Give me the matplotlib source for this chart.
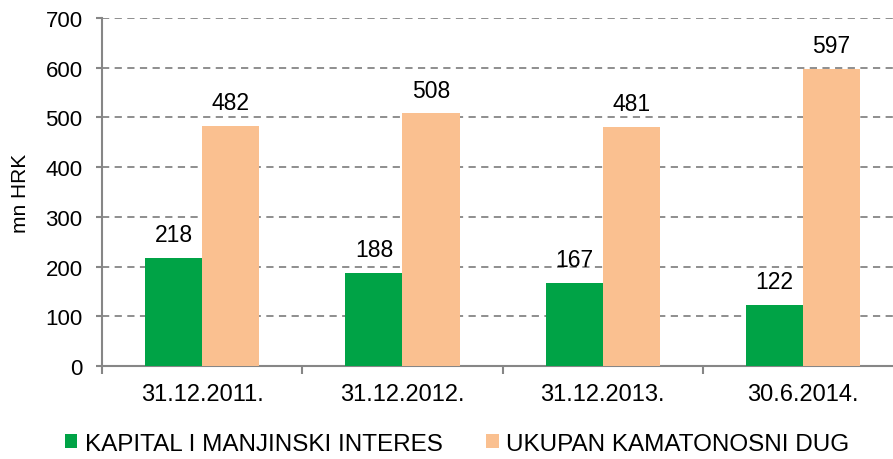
import numpy as np
import matplotlib.pyplot as plt
from matplotlib.ticker import FixedLocator

plt.rcParams['font.family'] = ['Liberation Sans', 'DejaVu Sans']

categories = ['31.12.2011.', '31.12.2012.', '31.12.2013.', '30.6.2014.']
kapital = [218, 188, 167, 122]
dug = [482, 508, 481, 597]
series_names = ['KAPITAL I MANJINSKI INTERES', 'UKUPAN KAMATONOSNI DUG']

green = '#00A346'
peach = '#FAC090'
grey = '#868686'

fig = plt.figure(figsize=(8.93, 4.6), dpi=100)
ax = fig.add_axes([0.1142, 0.2022, 0.8858, 0.7565])

x = np.arange(len(categories))
w = 0.285
b1 = ax.bar(x - w / 2, kapital, w, color=green, label=series_names[0], zorder=3)
b2 = ax.bar(x + w / 2, dug, w, color=peach, label=series_names[1], zorder=3)

for bars in (b1, b2):
    for r in bars:
        ax.text(r.get_x() + r.get_width() / 2, r.get_height() + 34, f'{int(r.get_height())}',
                ha='center', va='baseline', fontsize=16.5)

ax.set_ylim(0, 700)
ax.set_yticks(range(0, 701, 100))
ax.set_xlim(-0.5, -0.5 + 791 / 200.3)
ax.set_xticks(x)
ax.set_xticklabels(categories, fontsize=17)
ax.xaxis.set_minor_locator(FixedLocator(np.arange(-0.5, 4, 1)))
ax.tick_params(axis='x', which='major', length=0, pad=12)
ax.tick_params(axis='x', which='minor', length=6, color=grey, width=1.5)
ax.tick_params(axis='y', labelsize=16, length=4, color=grey, width=1.5, pad=10)
ax.yaxis.grid(True, linestyle=(0, (4, 3)), color=grey, linewidth=1.3, zorder=0)
ax.set_axisbelow(True)

for s in ['top', 'right']:
    ax.spines[s].set_visible(False)
for s in ['left', 'bottom']:
    ax.spines[s].set_color(grey)
    ax.spines[s].set_linewidth(1.5)

ax.set_ylabel('mn HRK', fontsize=15)
ax.yaxis.set_label_coords(-0.0916, 0.5)

fig.legend(loc='center', bbox_to_anchor=(0.512, 0.033), ncol=2, frameon=False,
           fontsize=17.5, handlelength=0.5, handleheight=0.5, handletextpad=0.3, columnspacing=1.8)

fig.savefig('out.png', dpi=100)
